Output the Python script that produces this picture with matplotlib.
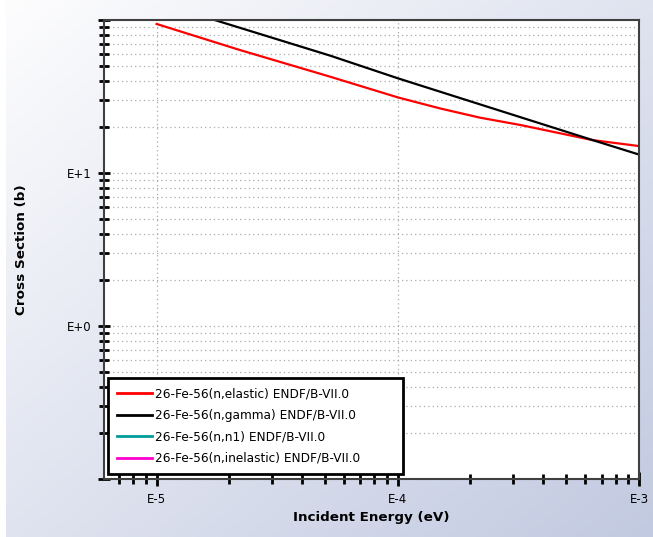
import numpy as np
import matplotlib
matplotlib.use("Agg")
import matplotlib.pyplot as plt
from matplotlib.ticker import LogLocator, FuncFormatter, NullFormatter

# energies (eV) and cross sections (b)
energy_elastic = [1e-5, 2.21e-5, 5.24e-5, 1e-4, 1.5e-4, 2.19e-4, 3.22e-4, 6.43e-4, 1e-3]
xs_elastic = [94.2, 63.7, 42.6, 31.2, 26.4, 23.0, 20.6, 16.4, 15.0]

energy_gamma = [1e-5, 1.74e-5, 5.24e-5, 1e-4, 2.19e-4, 6.43e-4, 1e-3]
xs_gamma = [131.0, 100.0, 58.5, 41.6, 28.1, 16.4, 13.2]

# threshold reactions: nothing inside this energy window
energy_n1 = []
xs_n1 = []
energy_inel = []
xs_inel = []

labels = ["26-Fe-56(n,elastic) ENDF/B-VII.0",
          "26-Fe-56(n,gamma) ENDF/B-VII.0",
          "26-Fe-56(n,n1) ENDF/B-VII.0",
          "26-Fe-56(n,inelastic) ENDF/B-VII.0"]
colors = ["#ff0000", "#000000", "#009a9a", "#ff00cc"]

fig = plt.figure(figsize=(6.53, 5.37), dpi=100)

# gradient background
bg = fig.add_axes([6 / 653, 0, 1 - 6 / 653, 1], zorder=-10)
gx, gy = np.meshgrid(np.linspace(0, 1, 200), np.linspace(0, 1, 200))
t = (gx + gy) / 2
c0 = np.array([253, 253, 254]) / 255
c1 = np.array([194, 202, 225]) / 255
img = c0[None, None, :] * (1 - t[..., None]) + c1[None, None, :] * t[..., None]
bg.imshow(img, aspect="auto", extent=[0, 1, 0, 1])
bg.set_axis_off()

ax = fig.add_axes([104 / 653, 1 - 479 / 537, 535 / 653, 459 / 537])
ax.set_facecolor("white")

series = [(energy_elastic, xs_elastic), (energy_gamma, xs_gamma),
          (energy_n1, xs_n1), (energy_inel, xs_inel)]
for (e, s), lab, c in zip(series, labels, colors):
    ax.plot(e, s, color=c, lw=1.6, label=lab)

ax.set_xscale("log")
ax.set_yscale("log")
ax.set_xlim(6.05e-6, 1e-3)
ax.set_ylim(0.1, 100)

ax.xaxis.set_major_locator(LogLocator(base=10))
ax.xaxis.set_minor_locator(LogLocator(base=10, subs=np.arange(2, 10)))
ax.yaxis.set_major_locator(LogLocator(base=10))
ax.yaxis.set_minor_locator(LogLocator(base=10, subs=np.arange(2, 10)))


def fmt_e(v, pos):
    p = int(round(np.log10(v)))
    if v <= 0.1 or v >= 100:
        return ""
    return "E%+d" % p


ax.xaxis.set_major_formatter(FuncFormatter(lambda v, p: "E%+d" % int(round(np.log10(v)))))
ax.yaxis.set_major_formatter(FuncFormatter(fmt_e))
ax.xaxis.set_minor_formatter(NullFormatter())
ax.yaxis.set_minor_formatter(NullFormatter())

ax.tick_params(axis="both", which="major", direction="inout", width=2,
               labelsize=8.5, colors="black")
ax.tick_params(axis="x", which="major", length=10, pad=5)
ax.tick_params(axis="x", which="minor", direction="inout", length=7, width=2)
ax.tick_params(axis="y", which="major", length=8, pad=5)
ax.tick_params(axis="y", which="minor", direction="inout", length=7, width=2)

ax.grid(which="major", axis="both", color="#aaaaaa", linestyle=(0, (1, 2.5)), lw=0.9)
ax.grid(which="minor", axis="y", color="#aaaaaa", linestyle=(0, (1, 2.5)), lw=0.9)

for sp in ax.spines.values():
    sp.set_color("#404040")
    sp.set_linewidth(1.5)

ax.set_xlabel("Incident Energy (eV)", fontsize=9.7, fontweight="bold", labelpad=4)
ax.set_ylabel("Cross Section (b)", fontsize=9.7, fontweight="bold", labelpad=28)

leg = ax.legend(loc="lower left", bbox_to_anchor=(0.0075, 0.011, 0.5514, 0.2),
                mode="expand", borderaxespad=0, fontsize=8.7, handlelength=2.9,
                handletextpad=0.25, labelspacing=0.7, fancybox=False,
                framealpha=1, edgecolor="black", borderpad=0.75)
leg.get_frame().set_linewidth(2)
for line in leg.get_lines():
    line.set_linewidth(2)

fig.savefig("out.png", dpi=100)
